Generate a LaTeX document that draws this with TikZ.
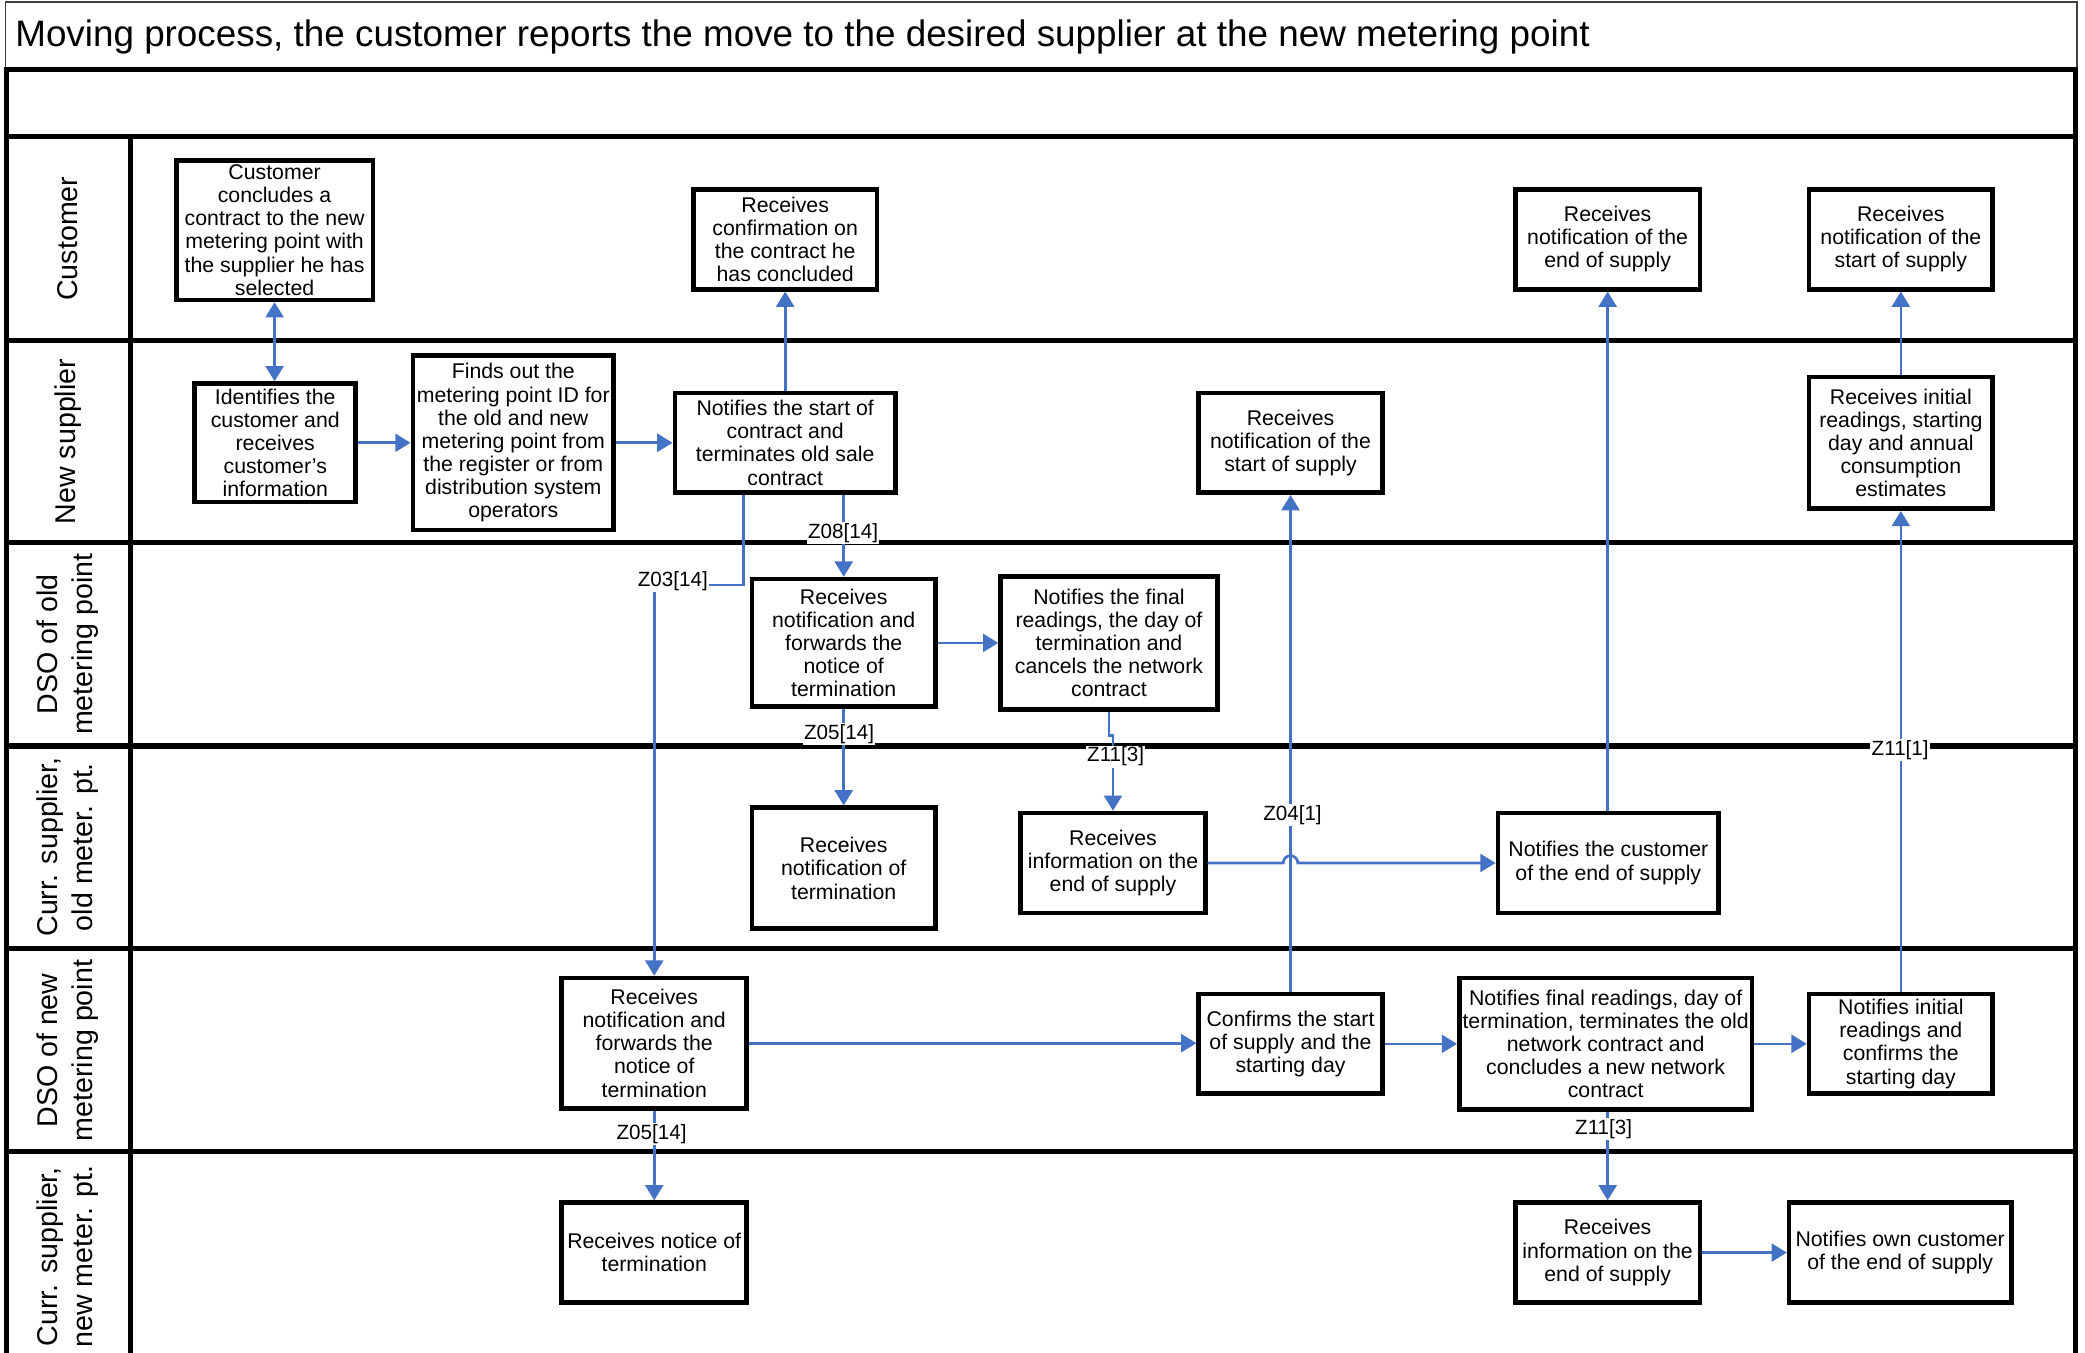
\documentclass[tikz,border=0pt]{standalone}
\usepackage{fontspec}
\setmainfont{Liberation Sans}
\usetikzlibrary{arrows.meta}
\definecolor{flowblue}{RGB}{68,114,196}
\tikzset{
  box/.style={draw, line width=3.5pt, fill=white, align=center, inner sep=1pt,
    font=\fontsize{16}{17.4}\selectfont},
  lbl/.style={fill=white, inner sep=1pt, font=\fontsize{15.5}{17}\selectfont},
  lanetitle/.style={rotate=90, align=center, font=\fontsize{21.5}{26}\selectfont},
  laneline/.style={line width=3.8pt},
  conn/.style={draw=flowblue, line width=2pt, ->},
  >={Triangle[length=11.5pt,width=13.5pt]}
}
\begin{document}
\begin{tikzpicture}[x=1pt,y=-1pt]
\useasboundingbox[fill=white] (0,0) rectangle (1568,1017);

% title strip
\draw[line width=1pt, black!75] (4,1.5) rectangle (1562,52);
\node[anchor=base west, font=\fontsize{27.7}{30}\selectfont] (title) at (8,35)
  {Moving process, the customer reports the move to the desired supplier at the new metering point};

% pool frame and lanes
\draw[laneline] (5,1030) -- (5,52) -- (1561,52) -- (1561,1030);
\foreach \yy in {103,256,408,561,713.5,866}
  \draw[laneline] (5,\yy) -- (1561,\yy);
\draw[laneline] (98,103) -- (98,1030);

\node[lanetitle] (lane1) at (51,179.5) {Customer};
\node[lanetitle] (lane2) at (51,332) {New supplier};
\node[lanetitle] (lane3) at (51,484.5) {DSO of old\\metering point};
\node[lanetitle] (lane4) at (51,637) {Curr. supplier,\\old meter. pt.};
\node[lanetitle] (lane5) at (51,790) {DSO of new\\metering point};
\node[lanetitle] (lane6) at (51,945) {Curr. supplier,\\new meter. pt.};

% activities
\node[box, minimum width=148pt, minimum height=105pt] (b1) at (206.5,173)
  {Customer\\concludes a\\contract to the new\\metering point with\\the supplier he has\\selected};
\node[box, minimum width=138pt, minimum height=75pt] (b2) at (590.5,180)
  {Receives\\confirmation on\\the contract he\\has concluded};
\node[box, minimum width=139pt, minimum height=75pt] (b3) at (1209,180)
  {Receives\\notification of the\\end of supply};
\node[box, minimum width=138pt, minimum height=75pt] (b4) at (1429.5,180)
  {Receives\\notification of the\\start of supply};

\node[box, minimum width=121pt, minimum height=89pt] (b5) at (207,333)
  {Identifies the\\customer and\\receives\\customer’s\\information};
\node[box, minimum width=151pt, minimum height=131pt] (b6) at (386,333)
  {Finds out the\\metering point ID for\\the old and new\\metering point from\\the register or from\\distribution system\\operators};
\node[box, minimum width=166pt, minimum height=75pt] (b7) at (590.5,333)
  {Notifies the start of\\contract and\\terminates old sale\\contract};
\node[box, minimum width=138pt, minimum height=75pt] (b8) at (970.5,333)
  {Receives\\notification of the\\start of supply};
\node[box, minimum width=138pt, minimum height=99pt] (b9) at (1429.5,333)
  {Receives initial\\readings, starting\\day and annual\\consumption\\estimates};

\node[box, minimum width=138pt, minimum height=96pt] (b10) at (634.5,483.5)
  {Receives\\notification and\\forwards the\\notice of\\termination};
\node[box, minimum width=163pt, minimum height=100pt] (b11) at (834,483.5)
  {Notifies the final\\readings, the day of\\termination and\\cancels the network\\contract};

\node[box, minimum width=138pt, minimum height=91pt] (b12) at (634.5,653)
  {Receives\\notification of\\termination};
\node[box, minimum width=139pt, minimum height=75pt] (b13) at (837,649)
  {Receives\\information on the\\end of supply};
\node[box, minimum width=166pt, minimum height=75pt] (b14) at (1209.5,649)
  {Notifies the customer\\of the end of supply};

\node[box, minimum width=139pt, minimum height=98pt] (b15) at (492,784.5)
  {Receives\\notification and\\forwards the\\notice of\\termination};
\node[box, minimum width=138pt, minimum height=75pt] (b16) at (970.5,785)
  {Confirms the start\\of supply and the\\starting day};
\node[box, minimum width=220pt, minimum height=99pt] (b17) at (1207.5,785)
  {Notifies final readings, day of\\termination, terminates the old\\network contract and\\concludes a new network\\contract};
\node[box, minimum width=138pt, minimum height=75pt] (b18) at (1429.5,785)
  {Notifies initial\\readings and\\confirms the\\starting day};

\node[box, minimum width=139pt, minimum height=75pt] (b19) at (492,942)
  {Receives notice of\\termination};
\node[box, minimum width=139pt, minimum height=75pt] (b20) at (1209,942)
  {Receives\\information on the\\end of supply};
\node[box, minimum width=167pt, minimum height=75pt] (b21) at (1429,942)
  {Notifies own customer\\of the end of supply};

% message flows
\draw[conn, <->] (b1.south) -- (b1.south |- b5.north);
\draw[conn] (b5.east) -- (b5.east -| b6.west);
\draw[conn] (b6.east) -- (b6.east -| b7.west);
\draw[conn] (b7.north) -- (b2.south);
\draw[conn] (b10.north |- b7.south) -- (b10.north);
\coordinate (z03) at (559,440);
\draw[conn] (z03 |- b7.south) -- (z03) -- (z03 -| b15.north) -- (b15.north);
\draw[conn] (b10.east) -- (b11.west);
\draw[conn] (b10.south) -- (b12.north);
\draw[conn] (b11.south) -- ++(0,18) -| (b13.north);
\coordinate (hop) at (b16.north |- b13.east);
\draw[conn] (b13.east) -- ([xshift=-5.5pt]hop)
  arc[start angle=180, end angle=360, radius=5.5] -- (b14.west);
\draw[conn] (b15.east) -- (b15.east -| b16.west);
\draw[conn] (b15.south) -- (b19.north);
\draw[conn] (b16.north) -- (b8.south);
\draw[conn] (b16.east) -- (b17.west);
\draw[conn] (b17.east) -- (b18.west);
\draw[conn] (b20.north |- b17.south) -- (b20.north);
\draw[conn] (b20.east) -- (b21.west);
\draw[conn] (b3.south |- b14.north) -- (b3.south);
\draw[conn] (b18.north) -- (b9.south);
\draw[conn] (b9.north) -- (b4.south);

% message codes
\node[lbl] (m1) at (634,401) {Z08[14]};
\node[lbl] (m2) at (506,437) {Z03[14]};
\node[lbl] (m3) at (631,552) {Z05[14]};
\node[lbl] (m4) at (839,569) {Z11[3]};
\node[lbl] (m5) at (972,613) {Z04[1]};
\node[lbl] (m6) at (1429,564) {Z11[1]};
\node[lbl] (m7) at (490,853) {Z05[14]};
\node[lbl] (m8) at (1206,849) {Z11[3]};
\end{tikzpicture}
\end{document}
